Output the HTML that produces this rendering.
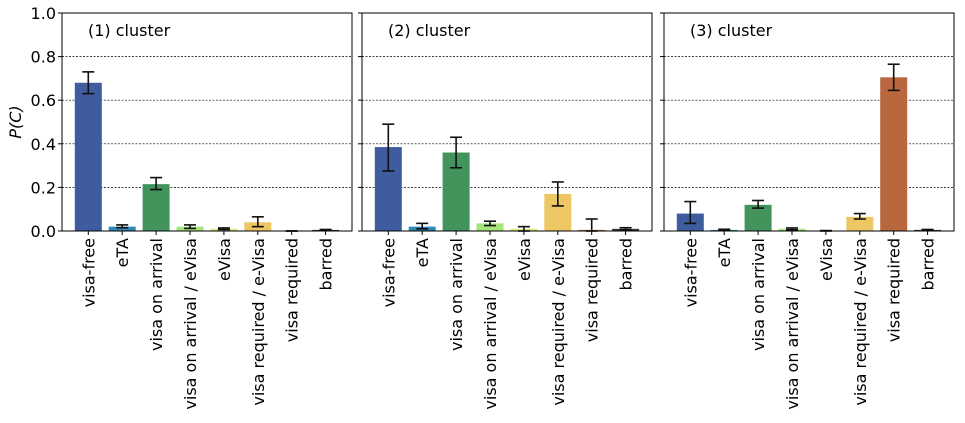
<!DOCTYPE html>
<html><head><meta charset="utf-8"><style>
body{margin:0;background:#fff}
svg text{font-family:"DejaVu Sans","Liberation Sans",sans-serif;fill:#000}
</style></head><body>
<svg id="chart" width="965" height="418" xmlns="http://www.w3.org/2000/svg"></svg>
<script>
const categories=["visa-free","eTA","visa on arrival","visa on arrival / eVisa","eVisa","visa required / e-Visa","visa required","barred"];
const panelTitles=["(1) cluster","(2) cluster","(3) cluster"];
const values1=[0.68,0.02,0.215,0.02,0.01,0.04,0.0,0.005];
const lo1=[0.63,0.015,0.19,0.012,0.007,0.02,0.0,0.003];
const hi1=[0.73,0.028,0.245,0.028,0.014,0.065,0.0,0.007];
const values2=[0.385,0.02,0.36,0.035,0.01,0.17,0.005,0.01];
const lo2=[0.275,0.01,0.29,0.025,0.0,0.115,0.0,0.005];
const hi2=[0.49,0.035,0.43,0.045,0.02,0.225,0.055,0.015];
const values3=[0.08,0.005,0.12,0.01,0.0,0.065,0.705,0.005];
const lo3=[0.035,0.002,0.105,0.006,0.0,0.055,0.645,0.003];
const hi3=[0.135,0.008,0.14,0.014,0.002,0.08,0.765,0.007];
const yTicks=[0,0.2,0.4,0.6,0.8,1.0];
const yTickLabels=["0.0","0.2","0.4","0.6","0.8","1.0"];
const colors=["#3f5d9e","#2e8ab8","#43945c","#a6e57a","#dcee7a","#ecc763","#b9673f","#3a3a3a"];
const series=[[values1,lo1,hi1],[values2,lo2,hi2],[values3,lo3,hi3]];
const panelsX=[62,362,664], panelW=290, plotTop=13, plotBottom=231;
const svg=document.getElementById('chart');
const NS="http://www.w3.org/2000/svg";
function mk(tag,attrs,parent){const e=document.createElementNS(NS,tag);for(const k in attrs)e.setAttribute(k,attrs[k]);(parent||svg).appendChild(e);return e;}
function yS(v){return plotBottom-v*(plotBottom-plotTop);}
series.forEach((s,p)=>{
  const x0=panelsX[p];
  const step=33.9;
  const xS=i=>x0+26.3+i*step;
  const g=mk('g',{});
  
  
  yTicks.forEach((t,i)=>{
    if(t>0&&t<1){const l=mk('line',{x1:x0,x2:x0+panelW,y1:yS(t),y2:yS(t),stroke:'#000','stroke-width':0.7,'stroke-dasharray':'2,1.5'},g);
      
      }
    mk('line',{x1:x0-4,x2:x0,y1:yS(t),y2:yS(t),stroke:'#000','stroke-width':1},g);
    if(p===0){const tx=mk('text',{x:x0-6,y:yS(t)+6,'text-anchor':'end','font-size':16},g);tx.textContent=yTickLabels[i];
      
      }
  });
  s[0].forEach((v,i)=>{
    const cx=xS(i);
    const r=mk('rect',{x:cx-13.5,y:yS(v),width:27,height:Math.max(0,plotBottom-yS(v)),fill:colors[i]},g);
    
    
    const l=s[1][i],h=s[2][i];
    mk('line',{x1:cx,x2:cx,y1:yS(l),y2:yS(h),stroke:'#111','stroke-width':1.6},g);
    mk('line',{x1:cx-6,x2:cx+6,y1:yS(l),y2:yS(l),stroke:'#111','stroke-width':1.6},g);
    mk('line',{x1:cx-6,x2:cx+6,y1:yS(h),y2:yS(h),stroke:'#111','stroke-width':1.6},g);
    mk('line',{x1:cx,x2:cx,y1:plotBottom,y2:plotBottom+4,stroke:'#000','stroke-width':1},g);
    const t=mk('text',{x:0,y:0,'text-anchor':'end','font-size':16,transform:`translate(${cx+6},${plotBottom+7}) rotate(-90)`},g);
    t.textContent=categories[i];
    
    
  });
  const fr=mk('rect',{x:x0,y:plotTop,width:panelW,height:plotBottom-plotTop,fill:'none',stroke:'#000','stroke-width':1},g);
  
  
  const tt=mk('text',{x:x0+26,y:36,'font-size':16},g);tt.textContent=panelTitles[p];
  
  
});
const yl=mk('text',{x:0,y:0,'text-anchor':'middle','font-size':16,'font-style':'italic',transform:'translate(21,122) rotate(-90)'});
yl.textContent='P(C)';


</script>
</body></html>
